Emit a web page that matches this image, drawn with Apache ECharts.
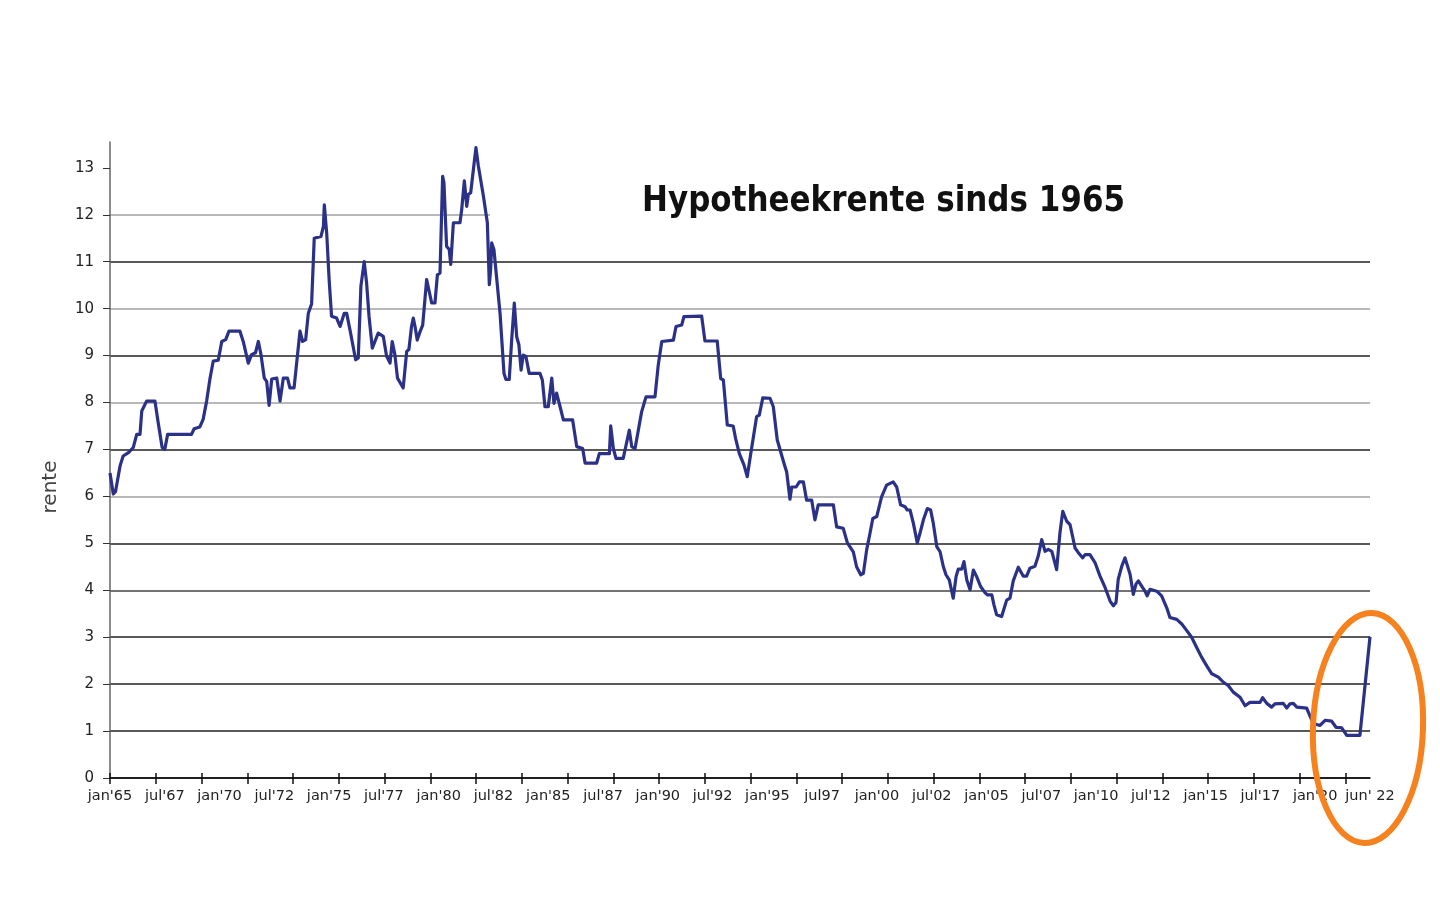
<!DOCTYPE html>
<html lang="nl">
<head>
    <meta charset="utf-8">
    <title>Hypotheekrente sinds 1965</title>
    <script type="text/javascript" src="https://cdn.jsdelivr.net/npm/echarts@6/dist/echarts.min.js"></script>
    <style>
        html, body { margin: 0; padding: 0; background: #fff; }
        #main { width: 1440px; height: 900px; }
    </style>
</head>

<body>
    <div id="main"></div>

    <script type="text/javascript">
    // labels onder de x-as
    var xLabels = ["jan'65", "jul'67", "jan'70", "jul'72", "jan'75", "jul'77", "jan'80", "jul'82",
        "jan'85", "jul'87", "jan'90", "jul'92", "jan'95", "jul97", "jan'00", "jul'02",
        "jan'05", "jul'07", "jan'10", "jul'12", "jan'15", "jul'17", "jan'20", "jun' 22"];

    var yTicks = [0, 1, 2, 3, 4, 5, 6, 7, 8, 9, 10, 11, 12, 13];

    // tijdstip (jaar, decimaal) en rente in %
    var jaren = [
        1965.00, 1965.15, 1965.25, 1965.46, 1965.60, 1965.84, 1966.06, 1966.22, 1966.37, 1966.45,
        1966.53, 1966.67, 1967.05, 1967.20, 1967.38, 1967.50, 1967.63, 1968.72, 1968.84, 1969.10,
        1969.25, 1969.41, 1969.56, 1969.71, 1969.94, 1970.10, 1970.28, 1970.43, 1970.93, 1971.08,
        1971.31, 1971.46, 1971.64, 1971.77, 1971.89, 1972.04, 1972.15, 1972.26, 1972.38, 1972.61,
        1972.76, 1972.91, 1973.10, 1973.21, 1973.40, 1973.67, 1973.79, 1973.93, 1974.05, 1974.20,
        1974.32, 1974.63, 1974.74, 1974.78, 1974.89, 1975.00, 1975.11, 1975.34, 1975.50, 1975.69,
        1975.80, 1975.95, 1976.21, 1976.33, 1976.45, 1976.60, 1976.71, 1976.82, 1976.97, 1977.06,
        1977.24, 1977.47, 1977.62, 1977.78, 1977.88, 1978.00, 1978.12, 1978.38, 1978.54, 1978.64,
        1978.76, 1978.84, 1978.92, 1979.02, 1979.15, 1979.27, 1979.45, 1979.53, 1979.68, 1979.83,
        1979.94, 1980.06, 1980.18, 1980.24, 1980.36, 1980.48, 1980.55, 1980.67, 1980.97, 1981.05,
        1981.17, 1981.28, 1981.35, 1981.46, 1981.61, 1981.70, 1981.81, 1982.04, 1982.22, 1982.31,
        1982.37, 1982.42, 1982.52, 1982.80, 1982.98, 1983.07, 1983.22, 1983.33, 1983.45, 1983.56,
        1983.66, 1983.76, 1983.86, 1983.98, 1984.13, 1984.62, 1984.73, 1984.85, 1985.00, 1985.16,
        1985.26, 1985.38, 1985.54, 1985.69, 1986.11, 1986.30, 1986.57, 1986.68, 1987.21, 1987.33,
        1987.79, 1987.85, 1987.97, 1988.09, 1988.42, 1988.55, 1988.70, 1988.81, 1988.96, 1989.11,
        1989.26, 1989.46, 1989.87, 1990.02, 1990.18, 1990.71, 1990.83, 1991.09, 1991.19, 1992.00,
        1992.15, 1992.71, 1992.87, 1992.99, 1993.17, 1993.44, 1993.55, 1993.72, 1993.93, 1994.08,
        1994.24, 1994.51, 1994.63, 1994.79, 1995.12, 1995.27, 1995.45, 1995.54, 1995.76, 1995.88,
        1996.03, 1996.11, 1996.31, 1996.46, 1996.64, 1996.79, 1997.02, 1997.17, 1997.32, 1998.01,
        1998.16, 1998.46, 1998.65, 1998.92, 1999.07, 1999.26, 1999.38, 1999.53, 1999.68, 1999.81,
        1999.99, 2000.21, 2000.44, 2000.74, 2000.90, 2001.08, 2001.28, 2001.38, 2001.51, 2001.66,
        2001.84, 2001.96, 2002.12, 2002.30, 2002.45, 2002.57, 2002.73, 2002.88, 2003.03, 2003.15,
        2003.30, 2003.48, 2003.61, 2003.71, 2003.87, 2003.97, 2004.10, 2004.25, 2004.40, 2004.55,
        2004.73, 2004.93, 2005.04, 2005.24, 2005.34, 2005.46, 2005.69, 2005.92, 2006.07, 2006.22,
        2006.45, 2006.68, 2006.83, 2006.98, 2007.21, 2007.36, 2007.52, 2007.67, 2007.82, 2007.98,
        2008.20, 2008.35, 2008.48, 2008.66, 2008.81, 2009.04, 2009.19, 2009.39, 2009.50, 2009.72,
        2009.95, 2010.18, 2010.41, 2010.64, 2010.79, 2010.91, 2011.01, 2011.17, 2011.32, 2011.55,
        2011.70, 2011.82, 2011.93, 2012.08, 2012.23, 2012.33, 2012.46, 2012.77, 2012.99, 2013.22,
        2013.37, 2013.68, 2013.91, 2014.14, 2014.36, 2014.59, 2014.82, 2015.05, 2015.28, 2015.58,
        2015.81, 2016.03, 2016.26, 2016.57, 2016.80, 2017.02, 2017.48, 2017.60, 2017.79, 2018.01,
        2018.16, 2018.54, 2018.70, 2018.85, 2019.00, 2019.16, 2019.61, 2019.91, 2020.22, 2020.45,
        2020.75, 2020.95, 2021.21, 2021.44, 2022.04, 2022.50
    ];

    var rente = [
        6.50, 6.05, 6.10, 6.65, 6.86, 6.93, 7.04, 7.32, 7.32, 7.82,
        7.85, 8.03, 8.03, 7.57, 7.04, 7.00, 7.32, 7.32, 7.44, 7.48,
        7.64, 8.03, 8.50, 8.88, 8.90, 9.30, 9.34, 9.52, 9.52, 9.30,
        8.84, 9.02, 9.06, 9.30, 9.02, 8.52, 8.45, 7.94, 8.50, 8.52,
        8.03, 8.52, 8.52, 8.31, 8.31, 9.52, 9.30, 9.34, 9.90, 10.10,
        11.50, 11.54, 11.75, 12.21, 11.60, 10.62, 9.84, 9.80, 9.62, 9.90,
        9.90, 9.55, 8.91, 8.95, 10.48, 11.00, 10.55, 9.84, 9.16, 9.13,
        9.48, 9.41, 8.99, 8.84, 9.30, 9.02, 8.52, 8.31, 9.09, 9.13,
        9.62, 9.80, 9.62, 9.33, 9.51, 9.65, 10.62, 10.62, 10.12, 10.12,
        10.72, 10.76, 12.82, 12.68, 11.33, 11.26, 10.94, 11.83, 11.83, 12.11,
        12.72, 12.18, 12.43, 12.47, 13.07, 13.43, 13.04, 12.40, 11.83, 10.51,
        10.83, 11.40, 11.26, 9.90, 8.62, 8.49, 8.49, 9.33, 10.12, 9.40,
        9.23, 8.69, 9.01, 8.98, 8.62, 8.62, 8.48, 7.91, 7.91, 8.52,
        7.98, 8.20, 7.91, 7.63, 7.63, 7.06, 7.02, 6.71, 6.71, 6.91,
        6.91, 7.50, 7.02, 6.81, 6.81, 7.09, 7.41, 7.06, 7.02, 7.41,
        7.80, 8.12, 8.12, 8.80, 9.30, 9.33, 9.62, 9.65, 9.83, 9.84,
        9.31, 9.31, 8.51, 8.48, 7.52, 7.50, 7.23, 6.91, 6.67, 6.42,
        6.91, 7.70, 7.73, 8.10, 8.09, 7.91, 7.20, 7.16, 6.70, 6.52,
        5.94, 6.20, 6.20, 6.31, 6.31, 5.92, 5.92, 5.50, 5.82, 5.82,
        5.35, 5.32, 5.01, 4.82, 4.50, 4.33, 4.36, 4.86, 5.21, 5.53,
        5.57, 5.99, 6.24, 6.31, 6.20, 5.82, 5.78, 5.71, 5.71, 5.43,
        5.01, 5.21, 5.50, 5.74, 5.71, 5.43, 4.93, 4.82, 4.50, 4.33,
        4.22, 3.83, 4.29, 4.45, 4.45, 4.61, 4.22, 4.01, 4.43, 4.29,
        4.08, 3.95, 3.90, 3.90, 3.69, 3.48, 3.44, 3.79, 3.83, 4.20,
        4.49, 4.30, 4.30, 4.47, 4.51, 4.73, 5.08, 4.83, 4.87, 4.83,
        4.44, 5.22, 5.68, 5.47, 5.40, 4.90, 4.80, 4.69, 4.76, 4.76,
        4.59, 4.30, 4.06, 3.77, 3.67, 3.74, 4.23, 4.51, 4.69, 4.34,
        3.91, 4.13, 4.20, 4.09, 3.98, 3.88, 4.02, 3.98, 3.88, 3.63,
        3.42, 3.38, 3.28, 3.14, 3.00, 2.78, 2.57, 2.39, 2.22, 2.15,
        2.04, 1.97, 1.83, 1.72, 1.54, 1.61, 1.61, 1.71, 1.59, 1.51,
        1.58, 1.59, 1.49, 1.58, 1.59, 1.51, 1.49, 1.16, 1.12, 1.23,
        1.21, 1.08, 1.07, 0.91, 0.91, 3.01
    ];

    var reeks = jaren.map(function (j, i) { return [j, rente[i]]; });

    // streepjes op de x-as (staan los van de labels)
    var tickPos = [];
    for (var k = 0; k <= 27; k++) tickPos.push(k);

    var fontAs = '"DejaVu Sans", Verdana, sans-serif';

    var myChart = echarts.init(document.getElementById('main'));

    myChart.setOption({
        animation: false,
        backgroundColor: '#ffffff',
        grid: { left: 110, right: 70, top: 142, bottom: 122 },
        xAxis: [{
            // tijd-as voor de lijn
            type: 'value', min: 1965, max: 2022.5, show: false
        }, {
            // as met streepjes naar buiten
            type: 'value', min: 0, max: 27.54, interval: 1, position: 'bottom',
            axisLine: { show: true, lineStyle: { color: '#111', width: 1.5 } },
            axisTick: { show: true, length: 6, customValues: tickPos, lineStyle: { color: '#111', width: 1.5 } },
            axisLabel: { show: false },
            splitLine: { show: false }
        }, {
            // streepjes naar binnen
            type: 'value', min: 0, max: 27.54, interval: 1, position: 'bottom',
            axisLine: { show: false },
            axisTick: { show: true, inside: true, length: 5, customValues: tickPos, lineStyle: { color: '#111', width: 1.5 } },
            axisLabel: { show: false },
            splitLine: { show: false }
        }, {
            // labels
            type: 'category', data: xLabels, boundaryGap: false, position: 'bottom',
            axisLine: { show: false },
            axisTick: { show: false },
            axisLabel: { interval: 0, margin: 11, fontSize: 14.5, color: '#222', fontFamily: fontAs },
            splitLine: { show: false }
        }],
        yAxis: {
            type: 'value', min: 0, max: 13.55, interval: 1,
            name: 'rente', nameLocation: 'middle', nameGap: 49,
            nameTextStyle: { fontSize: 20, color: '#444', fontFamily: fontAs, padding: [0, 54, 0, 0] },
            axisLine: { show: true, lineStyle: { color: '#666', width: 1.5 } },
            axisTick: { show: true, length: 7, customValues: yTicks, lineStyle: { color: '#333' } },
            axisLabel: { customValues: yTicks, margin: 16, fontSize: 15, color: '#222', fontFamily: fontAs },
            splitLine: {
                show: true, showMaxLine: false,
                lineStyle: {
                    width: 1.5,
                    color: ['#111', '#222', '#222', '#222', '#444', '#222', '#a0a0a0', '#222',
                        '#a0a0a0', '#222', '#a0a0a0', '#222', '#a0a0a0', '#222', 'rgba(0,0,0,0)']
                }
            }
        },
        graphic: [{
            // wit vlak achter de titel (lijnen 12 en 13 lopen daar niet door)
            type: 'rect', z: 1, silent: true,
            shape: { x: 490, y: 150, width: 885, height: 86 },
            style: { fill: '#ffffff' }
        }, {
            type: 'text', z: 5, x: 642, y: 184, scaleY: 1.16,
            style: {
                text: 'Hypotheekrente sinds 1965',
                font: 'bold 31px "DejaVu Sans", Verdana, sans-serif',
                fill: '#111', textVerticalAlign: 'top'
            }
        }, {
            type: 'ellipse', z: 10, x: 1368, y: 728, rotation: -0.035,
            shape: { cx: 0, cy: 0, rx: 55, ry: 115 },
            style: { fill: 'none', stroke: '#f5821f', lineWidth: 6 }
        }],
        series: [{
            name: 'rente',
            type: 'line',
            xAxisIndex: 0,
            yAxisIndex: 0,
            data: reeks,
            showSymbol: false,
            symbol: 'none',
            clip: false,
            z: 3,
            lineStyle: { color: '#2b3187', width: 3.2, join: 'round' }
        }]
    });
    </script>
</body>
</html>
